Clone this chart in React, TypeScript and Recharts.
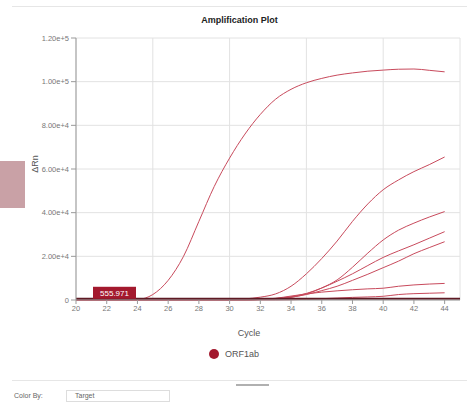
import React from 'react';
import { CartesianGrid, Line, LineChart, XAxis, YAxis, ReferenceLine } from 'recharts';

const cycles = [20, 21, 22, 23, 24, 25, 26, 27, 28, 29, 30, 31, 32, 33, 34, 35, 36, 37, 38, 39, 40, 41, 42, 43, 44];

// delta Rn per well, one value per cycle above
const well1 = [0, 0, 0, 0, 200, 2500, 9000, 20000, 36000, 52000, 65000, 76000, 85000, 92000, 96500, 99500, 101500, 103000, 104000, 104800, 105300, 105700, 105800, 105200, 104500];
const well2 = [0, 0, 0, 0, 0, 0, 0, 0, 0, 0, 100, 500, 1300, 2800, 6300, 12000, 19000, 27000, 36000, 44000, 50500, 55000, 58800, 62000, 65500];
const well3 = [0, 0, 0, 0, 0, 0, 0, 0, 0, 0, 0, 0, 200, 500, 1200, 2800, 5500, 9200, 15000, 21500, 27500, 32000, 35200, 38000, 40500];
const well4 = [0, 0, 0, 0, 0, 0, 0, 0, 0, 0, 0, 0, 300, 700, 1500, 3000, 5500, 8600, 12000, 15800, 19500, 22500, 25300, 28300, 31300];
const well5 = [0, 0, 0, 0, 0, 0, 0, 0, 0, 0, 0, 0, 200, 600, 1300, 2500, 4300, 6300, 9000, 11800, 14800, 17800, 21200, 24000, 26700];
const well6 = [0, 0, 0, 0, 0, 0, 0, 0, 0, 0, 0, 0, 300, 800, 1800, 2800, 3600, 4200, 4700, 5100, 5400, 6300, 6900, 7300, 7600];
const well7 = [0, 0, 0, 0, 0, 0, 0, 0, 0, 0, 0, 0, 0, 0, 100, 300, 600, 900, 1200, 1400, 1700, 2500, 2900, 3100, 3300];

const wells = [well1, well2, well3, well4, well5, well6, well7];
const threshold = 555.971;
const xTicks = [20, 22, 24, 26, 28, 30, 32, 34, 36, 38, 40, 42, 44];
const xGrid = [20, 25, 30, 35, 40, 45];
const yTicks = [0, 20000, 40000, 60000, 80000, 100000, 120000];

const data = cycles.map((c, i) => {
  const row: Record<string, number> = { cycle: c };
  wells.forEach((w, k) => {
    row['w' + (k + 1)] = w[i];
  });
  return row;
});

const lineColor = '#c84a5c';
const darkRed = '#a3192e';
const font = 'Arial, "Liberation Sans", sans-serif';

const fmtY = (v: number) => (v === 0 ? '0' : v.toExponential(2));

const ThresholdTag = (props: any) => {
  const vb = props.viewBox || {};
  const x = (vb.x ?? 76) + 17;
  const y = (vb.y ?? 299) - 12;
  return (
    <g>
      <rect x={x} y={y} width={43} height={12} fill={darkRed} />
      <text x={x + 21.5} y={y + 9} textAnchor="middle" fill="#fff" fontSize={8} fontFamily={font}>
        {threshold.toFixed(3)}
      </text>
    </g>
  );
};

export default function App() {
  return (
    <div style={{ position: 'absolute', left: 0, top: 0, width: 467, height: 402, overflow: 'hidden', background: '#fff', fontFamily: font }}>
      <div style={{ position: 'absolute', left: 12, top: 6, width: 455, height: 1, background: '#e6e6e6' }} />
      <div style={{ position: 'absolute', left: 0, top: 161, width: 25, height: 47, background: '#c9a1a6' }} />
      <div style={{ position: 'absolute', left: 6, top: 15, width: 467, textAlign: 'center', fontSize: 9, fontWeight: 'bold', color: '#222' }}>
        Amplification Plot
      </div>
      <LineChart width={467} height={345} data={data} margin={{ top: 38, right: 7, left: 0, bottom: 5 }}>
        <CartesianGrid stroke="#e2e2e2" verticalValues={xGrid} />
        <XAxis
          dataKey="cycle"
          type="number"
          domain={[20, 45]}
          ticks={xTicks}
          tick={{ fontSize: 7.5, fill: '#777', fontFamily: font }}
          tickSize={4}
          stroke="#999"
          height={40}
          label={{ value: 'Cycle', position: 'insideBottom', offset: 4, dx: -19, fontSize: 9, fill: '#555', fontFamily: font }}
        />
        <YAxis
          type="number"
          domain={[0, 120000]}
          ticks={yTicks}
          tickFormatter={fmtY}
          tick={{ fontSize: 7.5, fill: '#777', fontFamily: font }}
          tickSize={5}
          stroke="#999"
          width={76}
          label={{ value: 'ΔRn', angle: -90, position: 'center', dx: -3, dy: -5, fontSize: 9, fill: '#555', fontFamily: font }}
        />
        {wells.map((_, k) => (
          <Line
            key={k}
            type="monotone"
            dataKey={'w' + (k + 1)}
            stroke={lineColor}
            strokeWidth={1}
            dot={false}
            isAnimationActive={false}
          />
        ))}
        <ReferenceLine y={threshold} stroke="#5e1a24" strokeWidth={2} label={<ThresholdTag />} />
      </LineChart>
      <div style={{ position: 'absolute', left: 209, top: 349, display: 'flex', alignItems: 'center', fontSize: 9, color: '#555' }}>
        <span style={{ width: 10, height: 10, borderRadius: 5, background: darkRed, display: 'inline-block', marginRight: 6 }} />
        ORF1ab
      </div>
      <div style={{ position: 'absolute', left: 12, top: 380, width: 455, height: 1, background: '#e6e6e6' }} />
      <div style={{ position: 'absolute', left: 236, top: 384, width: 33, height: 2, background: '#b0b0b0' }} />
      <div style={{ position: 'absolute', left: 14, top: 391, fontSize: 7, lineHeight: '9px', color: '#666' }}>Color By:</div>
      <div style={{ position: 'absolute', left: 66, top: 390, width: 104, height: 12, border: '1px solid #ddd', fontSize: 7, color: '#666', paddingLeft: 8, boxSizing: 'border-box', lineHeight: '10px' }}>
        Target
      </div>
    </div>
  );
}
